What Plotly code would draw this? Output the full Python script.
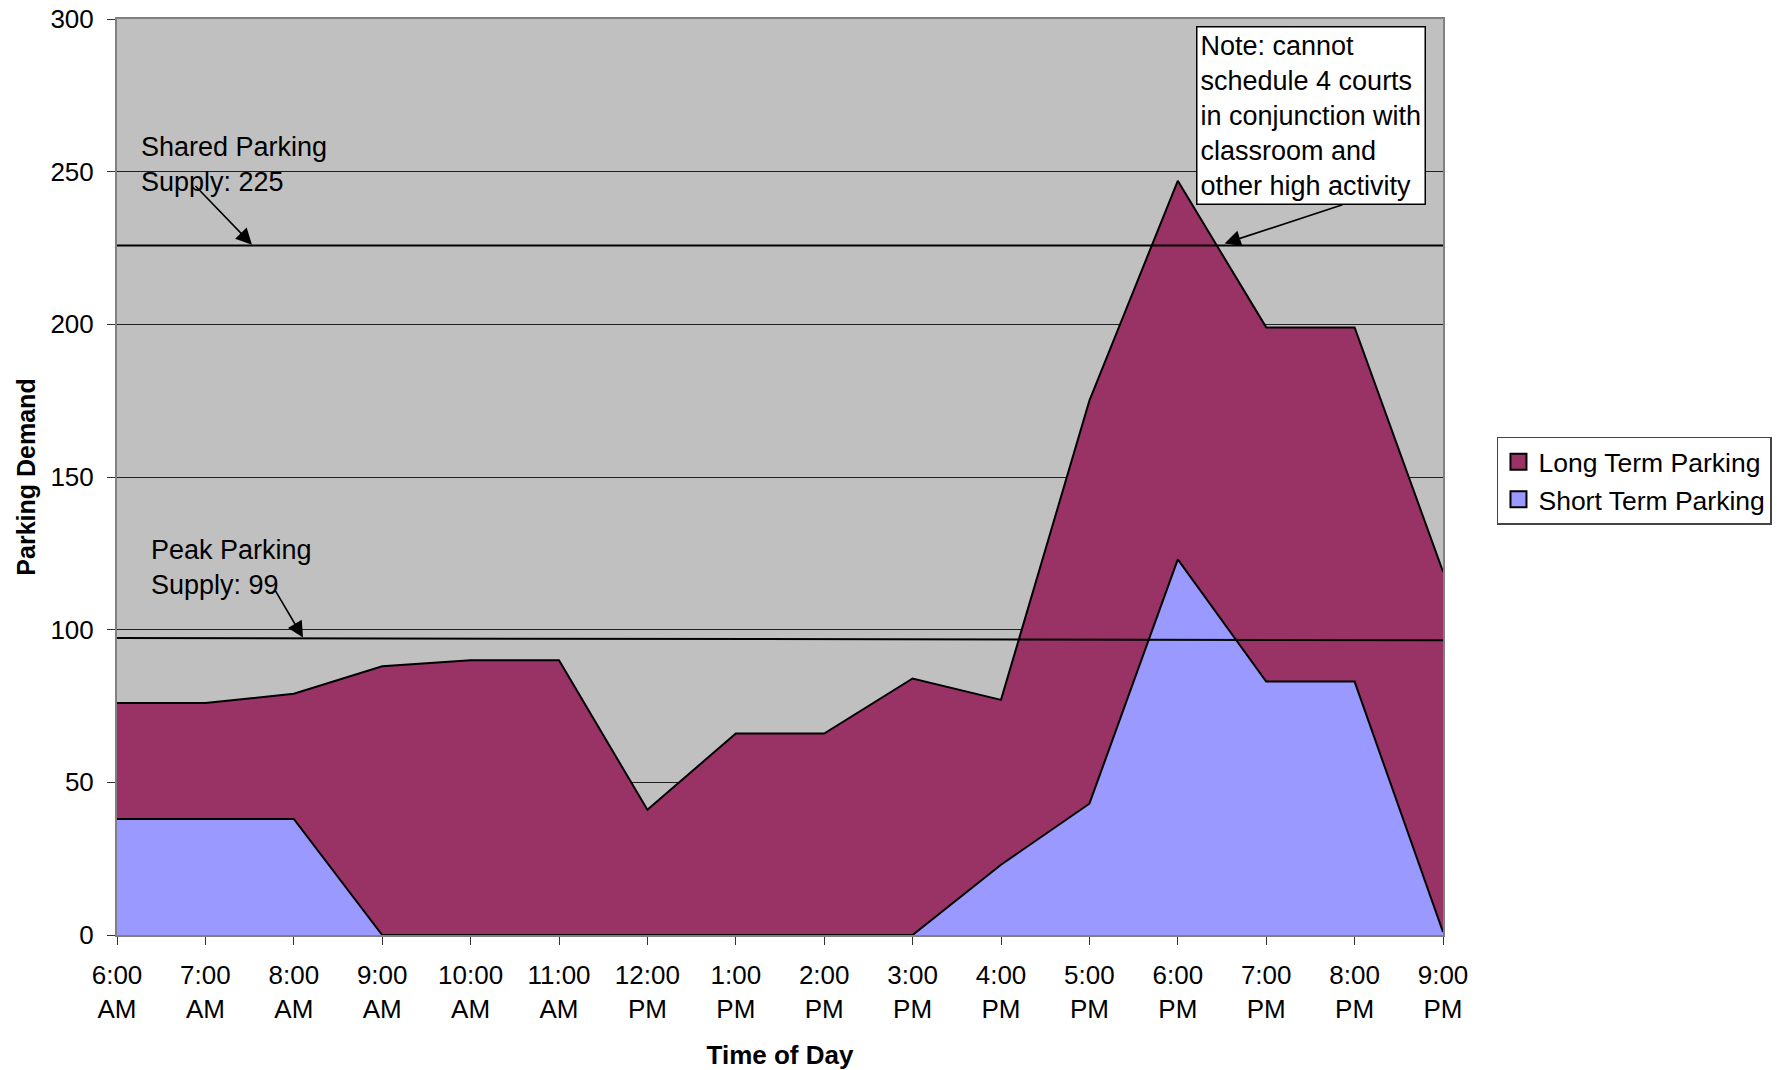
import plotly.graph_objects as go

# ---- data ----
time_labels = ["6:00<br>AM", "7:00<br>AM", "8:00<br>AM", "9:00<br>AM", "10:00<br>AM", "11:00<br>AM",
               "12:00<br>PM", "1:00<br>PM", "2:00<br>PM", "3:00<br>PM", "4:00<br>PM", "5:00<br>PM",
               "6:00<br>PM", "7:00<br>PM", "8:00<br>PM", "9:00<br>PM"]
short_term = [38, 38, 38, 0, 0, 0, 0, 0, 0, 0, 23, 43, 123, 83, 83, 1]
long_term = [38, 38, 41, 88, 90, 90, 41, 66, 66, 84, 54, 132, 124, 116, 116, 118]
y_ticks = [0, 50, 100, 150, 200, 250, 300]
shared_supply_level = 225.8
peak_supply_level_start = 97.3
peak_supply_level_end = 96.5

FONT = "Liberation Sans, Arial, sans-serif"
TXT = 27
x_idx = list(range(len(time_labels)))
LONG_COLOR = "#993366"
SHORT_COLOR = "#9999FF"

fig = go.Figure()
fig.add_trace(go.Scatter(
    x=x_idx, y=short_term, name="Short Term Parking", stackgroup="one", showlegend=False,
    mode="lines", line=dict(color="black", width=2), fillcolor=SHORT_COLOR))
fig.add_trace(go.Scatter(
    x=x_idx, y=long_term, name="Long Term Parking", stackgroup="one", showlegend=False,
    mode="lines", line=dict(color="black", width=2), fillcolor=LONG_COLOR))
# legend entries (square swatches)
fig.add_trace(go.Scatter(x=[None], y=[None], mode="markers", name="Long Term Parking",
                         marker=dict(symbol="square", size=17, color=LONG_COLOR,
                                     line=dict(color="black", width=2))))
fig.add_trace(go.Scatter(x=[None], y=[None], mode="markers", name="Short Term Parking",
                         marker=dict(symbol="square", size=17, color=SHORT_COLOR,
                                     line=dict(color="black", width=2))))

# supply lines
fig.add_shape(type="line", x0=0, x1=len(x_idx) - 1, y0=shared_supply_level, y1=shared_supply_level,
              xref="x", yref="y", line=dict(color="black", width=2), layer="above")
fig.add_shape(type="line", x0=0, x1=len(x_idx) - 1, y0=peak_supply_level_start, y1=peak_supply_level_end,
              xref="x", yref="y", line=dict(color="black", width=2), layer="above")

# text labels
fig.add_annotation(x=0.25, y=263.5, xref="x", yref="y", xanchor="left", yanchor="top",
                   text="Shared Parking<br>Supply: 225", showarrow=False, align="left",
                   font=dict(family=FONT, size=TXT, color="black"))
fig.add_annotation(x=0.365, y=131.5, xref="x", yref="y", xanchor="left", yanchor="top",
                   text="Peak Parking<br>Supply: 99", showarrow=False, align="left",
                   font=dict(family=FONT, size=TXT, color="black"))
fig.add_annotation(x=12.206, y=297.6, xref="x", yref="y", xanchor="left", yanchor="top",
                   text="Note: cannot<br>schedule 4 courts<br>in conjunction with<br>classroom and<br>other high activity",
                   showarrow=False, align="left", bgcolor="white", bordercolor="black",
                   borderwidth=1.5, borderpad=3,
                   font=dict(family=FONT, size=TXT, color="black"))

# arrows
for (tx, ty, hx, hy) in [(0.871, 245.8, 1.527, 226.1), (1.776, 113.5, 2.104, 97.4),
                         (13.88, 239.3, 12.53, 226.5)]:
    fig.add_annotation(x=hx, y=hy, ax=tx, ay=ty, xref="x", yref="y", axref="x", ayref="y",
                       text="", showarrow=True, arrowhead=2, arrowsize=2.0, arrowwidth=1.6,
                       arrowcolor="black", standoff=0, startstandoff=0)

fig.update_layout(
    width=1782, height=1070,
    margin=dict(l=117, r=339, t=19, b=135, autoexpand=False),
    paper_bgcolor="white", plot_bgcolor="#C0C0C0",
    font=dict(family=FONT, size=26, color="black"),
    showlegend=True,
    legend=dict(x=1.0407, y=0.5442, xanchor="left", yanchor="top", traceorder="normal",
                bgcolor="white", bordercolor="#444", borderwidth=1.5,
                font=dict(family=FONT, size=26.5, color="black"),
                itemwidth=30, tracegroupgap=0),
)
fig.update_xaxes(
    range=[0, len(x_idx) - 1], tickmode="array", tickvals=x_idx, ticktext=time_labels,
    ticks="outside", ticklen=8, tickcolor="#333", showgrid=False, zeroline=False,
    showline=True, linecolor="#808080", linewidth=2, mirror=True, automargin=False,
    ticklabelstandoff=8, ticklabeloverflow="allow",
    tickfont=dict(family=FONT, size=26, color="black"),
    title=dict(text="<b>Time of Day</b>", font=dict(family=FONT, size=26, color="black"), standoff=25),
)
fig.update_yaxes(
    range=[0, 300], tickmode="array", tickvals=y_ticks,
    ticks="outside", ticklen=8, tickcolor="#333", showgrid=True, gridcolor="#202020", gridwidth=1,
    zeroline=False, showline=True, linecolor="#808080", linewidth=2, mirror=True, automargin=False,
    ticklabelstandoff=8, ticklabeloverflow="allow",
    tickfont=dict(family=FONT, size=26, color="black"),
    title=dict(text="<b>Parking Demand</b>", font=dict(family=FONT, size=25, color="black"), standoff=8),
)

fig.write_html("out.html", config={"displayModeBar": False},
               post_script="document.body.style.margin='0';")
